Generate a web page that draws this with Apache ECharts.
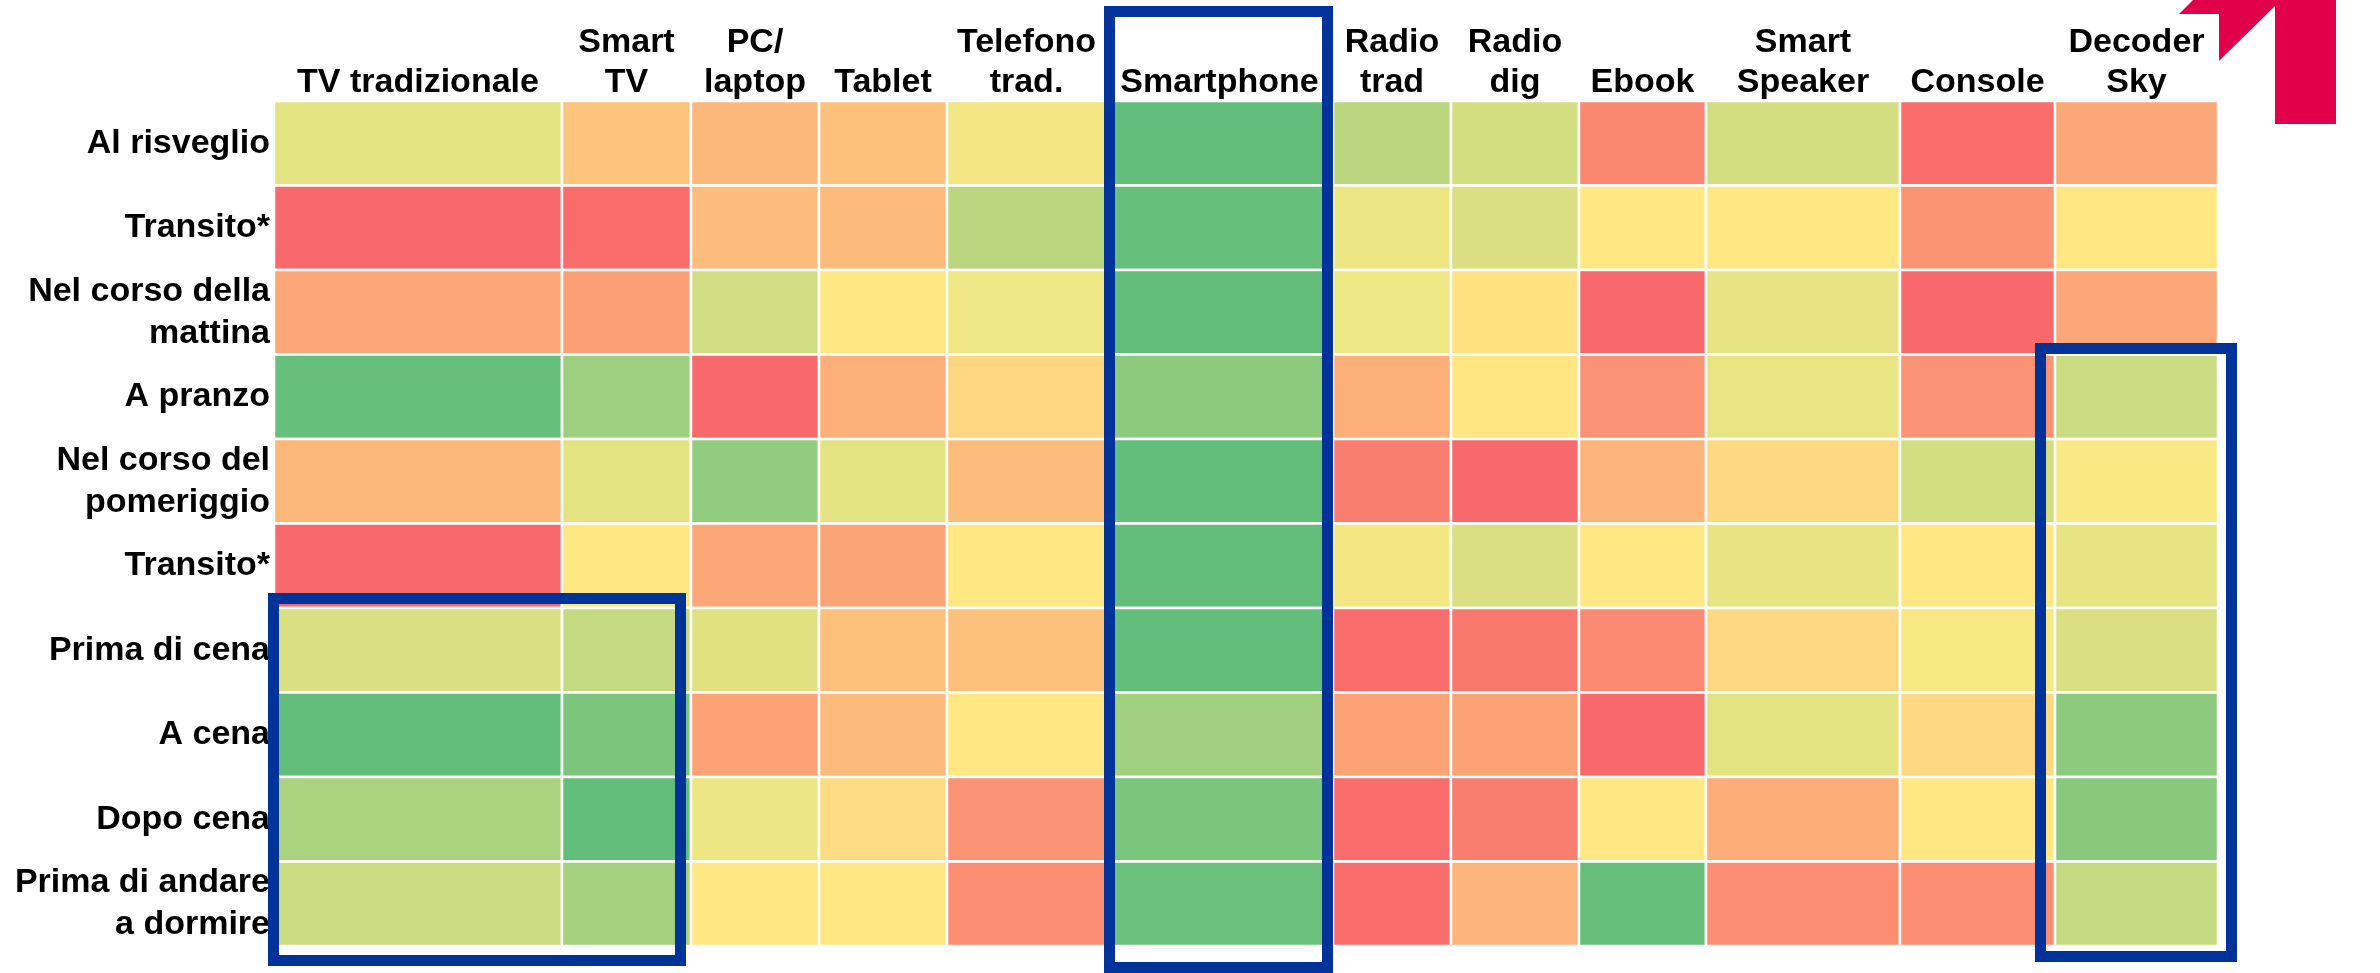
<!DOCTYPE html>
<html>
<head>
<meta charset="utf-8">
<script src="https://cdn.jsdelivr.net/npm/echarts@6/dist/echarts.min.js"></script>
<style>
  html, body { margin: 0; padding: 0; background: #fff; }
  #mainChart { width: 2380px; height: 973px; }
</style>
</head>
<body>
<div id="mainChart"></div>
<script>
// devices (columns) and moments of the day (rows)
var devices = ['TV tradizionale', 'Smart\nTV', 'PC/\nlaptop', 'Tablet', 'Telefono\ntrad.', 'Smartphone',
    'Radio\ntrad', 'Radio\ndig', 'Ebook', 'Smart\nSpeaker', 'Console', 'Decoder\nSky'];
var moments = ['Al risveglio', 'Transito*', 'Nel corso della\nmattina', 'A pranzo', 'Nel corso del\npomeriggio',
    'Transito*', 'Prima di cena', 'A cena', 'Dopo cena', 'Prima di andare\na dormire'];

// score per device, one list per moment (0 = lowest / red, 100 = highest / green)
var risveglio    = [59, 35, 30, 34, 54, 100, 72, 64, 12, 64, 1, 24];
var transito1    = [0, 1, 32, 31, 72, 99, 56, 62, 49, 49, 17, 49];
var mattina      = [24, 21, 65, 49, 55, 100, 55, 47, 0, 58, 0, 24];
var pranzo       = [99, 81, 0, 27, 42, 87, 27, 48, 16, 57, 16, 67];
var pomeriggio   = [30, 59, 85, 59, 32, 100, 8, 0, 29, 43, 64, 52];
var transito2    = [0, 49, 24, 23, 49, 100, 54, 62, 49, 58, 49, 58];
var primaCena    = [62, 69, 60, 34, 34, 100, 1, 6, 13, 43, 53, 62];
var cena         = [100, 92, 22, 31, 49, 80, 22, 22, 0, 59, 43, 87];
var dopoCena     = [77, 100, 56, 44, 16, 92, 1, 8, 49, 26, 49, 88];
var primaDormire = [67, 79, 49, 49, 14, 97, 1, 29, 99, 14, 14, 69];

var rowsValues = [risveglio, transito1, mattina, pranzo, pomeriggio, transito2, primaCena, cena, dopoCena, primaDormire];

// layout: relative column widths (the table has uneven columns)
var colWidths = [288, 129, 128, 128, 159, 227, 118, 128, 127, 194, 155, 163];

var colEdges = [0];
for (var i = 0; i < colWidths.length; i++) {
    colEdges.push(colEdges[i] + colWidths[i]);
}
var colCenters = [];
for (var i = 0; i < colWidths.length; i++) {
    colCenters.push((colEdges[i] + colEdges[i + 1]) / 2);
}

var data = [];
for (var r = 0; r < rowsValues.length; r++) {
    for (var c = 0; c < devices.length; c++) {
        data.push([c, r, rowsValues[r][c]]);
    }
}

var font = 'Liberation Sans, Arial, sans-serif';
var blue = '#003399';

var myChart = echarts.init(document.getElementById('mainChart'));

var option = {
    backgroundColor: '#fff',
    animation: false,
    grid: { left: 274, top: 101, width: colEdges[colEdges.length - 1], height: 845 },
    xAxis: {
        type: 'value',
        position: 'top',
        min: 0,
        max: colEdges[colEdges.length - 1],
        axisLine: { show: false },
        axisTick: { show: false },
        splitLine: { show: false },
        axisLabel: {
            customValues: colCenters,
            formatter: function (v) {
                for (var k = 0; k < colCenters.length; k++) {
                    if (Math.abs(colCenters[k] - v) < 0.01) return devices[k];
                }
                return '';
            },
            color: '#000',
            fontFamily: font,
            fontWeight: 'bold',
            fontSize: 34,
            lineHeight: 40,
            margin: -2
        }
    },
    yAxis: {
        type: 'category',
        data: moments,
        inverse: true,
        axisLine: { show: false },
        axisTick: { show: false },
        splitLine: { show: false },
        axisLabel: {
            color: '#000',
            fontFamily: font,
            fontWeight: 'bold',
            fontSize: 34,
            lineHeight: 42,
            margin: 4
        }
    },
    visualMap: {
        show: false,
        type: 'continuous',
        min: 0,
        max: 100,
        dimension: 2,
        seriesIndex: 0,
        inRange: { color: ['#F8696B', '#FFEB84', '#63BE7B'] }
    },
    series: [{
        type: 'custom',
        encode: { x: 0, y: 1 },
        data: data,
        renderItem: function (params, api) {
            var col = api.value(0);
            var row = api.value(1);
            var p0 = api.coord([colEdges[col], row]);
            var p1 = api.coord([colEdges[col + 1], row]);
            var h = api.size([0, 1])[1];
            return {
                type: 'rect',
                shape: { x: p0[0], y: p0[1] - h / 2, width: p1[0] - p0[0], height: h },
                style: { fill: api.visual('color'), stroke: '#fff', lineWidth: 2.5 }
            };
        }
    }],
    graphic: [
        // corner logo fragment
        {
            type: 'polygon', z: 50,
            shape: { points: [[2193, 0], [2336, 0], [2336, 124], [2275, 124], [2275, 6], [2219, 61], [2219, 14], [2179, 14]] },
            style: { fill: '#E3004A' }
        },
        // highlight boxes
        {
            type: 'rect', z: 60,
            shape: { x: 273.5, y: 598.5, width: 407, height: 362 },
            style: { fill: 'none', stroke: blue, lineWidth: 11 }
        },
        {
            type: 'rect', z: 60,
            shape: { x: 1109.5, y: 11.5, width: 218, height: 956 },
            style: { fill: 'none', stroke: blue, lineWidth: 11 }
        },
        {
            type: 'rect', z: 60,
            shape: { x: 2040.5, y: 348.5, width: 191, height: 608 },
            style: { fill: 'none', stroke: blue, lineWidth: 11 }
        }
    ]
};

myChart.setOption(option);
</script>
</body>
</html>
